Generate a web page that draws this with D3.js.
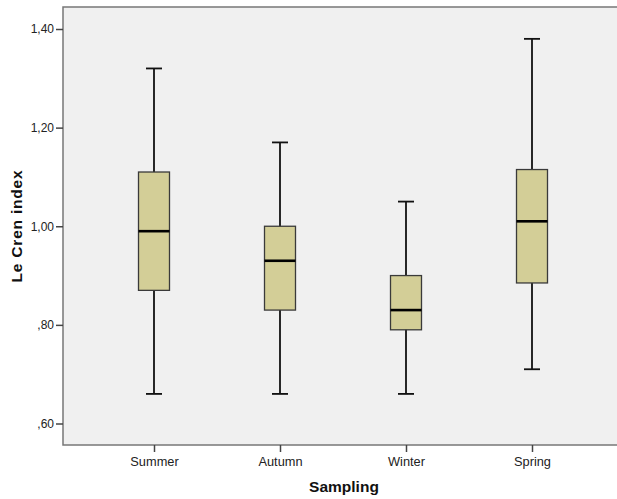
<!DOCTYPE html>
<html lang="en">
<head>
    <meta charset="UTF-8">
    <title>Le Cren index by sampling</title>
    <style>
        html, body { margin: 0; padding: 0; background: #ffffff; }
        svg { display: block; font-family: "Liberation Sans", Arial, sans-serif; }
    </style>
</head>
<body>
    <div id="chart"></div>
    <script src="https://d3js.org/d3.v7.min.js"></script>
    <script>
        // Data
        var seasons = ["Summer", "Autumn", "Winter", "Spring"];
        var whiskerLow = [0.66, 0.66, 0.66, 0.71];
        var q1 = [0.87, 0.83, 0.79, 0.885];
        var median = [0.99, 0.93, 0.83, 1.01];
        var q3 = [1.11, 1.00, 0.90, 1.115];
        var whiskerHigh = [1.32, 1.17, 1.05, 1.38];
        var yTicks = [0.60, 0.80, 1.00, 1.20, 1.40];

        var width = 617, height = 499;
        // plot frame runs past the right edge of the picture
        var plot = { left: 63, top: 7, right: 630, bottom: 445 };

        var svg = d3.select("#chart").append("svg")
            .attr("width", width)
            .attr("height", height);

        var y = d3.scaleLinear()
            .domain([0.6, 1.4])
            .range([423.5, 29]);

        var x = d3.scalePoint()
            .domain(seasons)
            .range([154, 532]);

        // plot background
        svg.append("rect")
            .attr("x", plot.left)
            .attr("y", plot.top)
            .attr("width", plot.right - plot.left)
            .attr("height", plot.bottom - plot.top)
            .attr("fill", "#f0f0f0")
            .attr("stroke", "#777")
            .attr("stroke-width", 1.5);

        // y axis
        var yAxis = d3.axisLeft(y)
            .tickValues(yTicks)
            .tickSize(7)
            .tickPadding(2)
            .tickFormat(function(d) { return d3.format(".2f")(d).replace(/^0/, "").replace(".", ","); });
        var gy = svg.append("g")
            .attr("transform", "translate(" + plot.left + ",0)")
            .call(yAxis);
        gy.select(".domain").remove();
        gy.selectAll("line").attr("stroke", "#444").attr("stroke-width", 1.5);
        gy.selectAll("text").attr("font-size", 12).attr("fill", "#222");

        // x axis
        var xAxis = d3.axisBottom(x).tickSize(7).tickPadding(5);
        var gx = svg.append("g")
            .attr("transform", "translate(0," + plot.bottom + ")")
            .call(xAxis);
        gx.select(".domain").remove();
        gx.selectAll("line").attr("stroke", "#444").attr("stroke-width", 1.5);
        gx.selectAll("text").attr("font-size", 12.8).attr("fill", "#222");

        var boxW = 31, capW = 16;
        var rows = seasons.map(function(s, i) {
            return { name: s, lo: whiskerLow[i], q1: q1[i], med: median[i], q3: q3[i], hi: whiskerHigh[i] };
        });

        var g = svg.selectAll(".box").data(rows).enter().append("g").attr("class", "box");

        // whiskers
        g.append("line")
            .attr("x1", function(d) { return x(d.name); })
            .attr("x2", function(d) { return x(d.name); })
            .attr("y1", function(d) { return y(d.hi); })
            .attr("y2", function(d) { return y(d.lo); })
            .attr("stroke", "#111").attr("stroke-width", 1.8);
        g.append("line")
            .attr("x1", function(d) { return x(d.name) - capW / 2; })
            .attr("x2", function(d) { return x(d.name) + capW / 2; })
            .attr("y1", function(d) { return y(d.hi); })
            .attr("y2", function(d) { return y(d.hi); })
            .attr("stroke", "#111").attr("stroke-width", 1.8);
        g.append("line")
            .attr("x1", function(d) { return x(d.name) - capW / 2; })
            .attr("x2", function(d) { return x(d.name) + capW / 2; })
            .attr("y1", function(d) { return y(d.lo); })
            .attr("y2", function(d) { return y(d.lo); })
            .attr("stroke", "#111").attr("stroke-width", 1.8);

        // boxes
        g.append("rect")
            .attr("x", function(d) { return x(d.name) - boxW / 2; })
            .attr("y", function(d) { return y(d.q3); })
            .attr("width", boxW)
            .attr("height", function(d) { return y(d.q1) - y(d.q3); })
            .attr("fill", "#d3ce97")
            .attr("stroke", "#3a3a3a")
            .attr("stroke-width", 1.3);

        // medians
        g.append("line")
            .attr("x1", function(d) { return x(d.name) - boxW / 2; })
            .attr("x2", function(d) { return x(d.name) + boxW / 2; })
            .attr("y1", function(d) { return y(d.med); })
            .attr("y2", function(d) { return y(d.med); })
            .attr("stroke", "#000").attr("stroke-width", 2.6);

        // axis titles
        svg.append("text")
            .attr("x", 344)
            .attr("y", 492)
            .attr("text-anchor", "middle")
            .attr("font-size", 15.5)
            .attr("font-weight", "bold")
            .attr("fill", "#111")
            .text("Sampling");

        svg.append("text")
            .attr("transform", "translate(22,226) rotate(-90)")
            .attr("text-anchor", "middle")
            .attr("font-size", 15.5)
            .attr("font-weight", "bold")
            .attr("letter-spacing", 0.8)
            .attr("fill", "#111")
            .text("Le Cren index");
    </script>
</body>
</html>
